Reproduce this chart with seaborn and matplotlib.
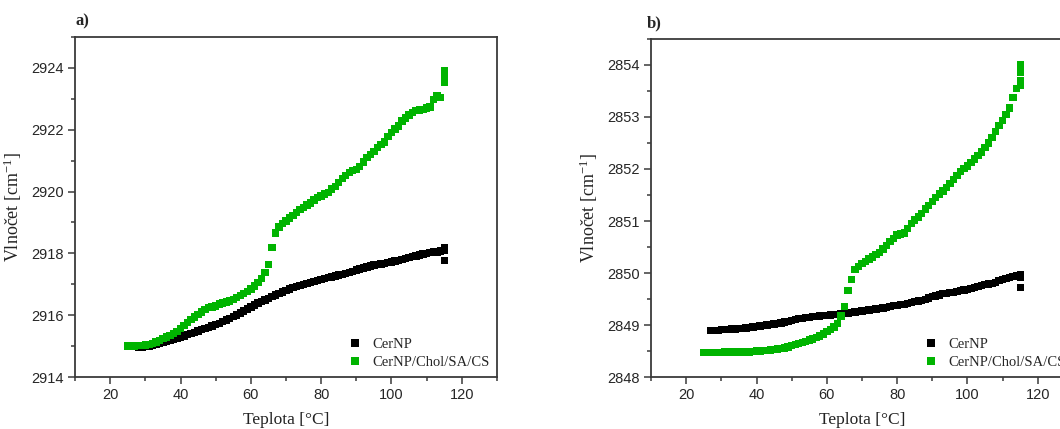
import numpy as np
import pandas as pd
import matplotlib
matplotlib.use("Agg")
import matplotlib.pyplot as plt
from matplotlib.ticker import MultipleLocator
import seaborn as sns

# ---- CH2 asymmetric stretching band (panel a) ----
temp_a_cer = list(range(28, 116)) + [115, 115]
wn_a_cer = [
    2914.95, 2914.96, 2914.98, 2915.00, 2915.03, 2915.06, 2915.10, 2915.13, 2915.16, 2915.19,
    2915.22, 2915.26, 2915.30, 2915.33, 2915.37, 2915.41, 2915.45, 2915.49, 2915.53, 2915.57,
    2915.61, 2915.65, 2915.69, 2915.74, 2915.79, 2915.84, 2915.89, 2915.95, 2916.01, 2916.07,
    2916.14, 2916.20, 2916.27, 2916.33, 2916.39, 2916.44, 2916.49, 2916.54, 2916.60, 2916.65,
    2916.70, 2916.75, 2916.80, 2916.85, 2916.89, 2916.93, 2916.97, 2917.00, 2917.03, 2917.06,
    2917.09, 2917.12, 2917.15, 2917.18, 2917.21, 2917.24, 2917.27, 2917.30, 2917.32, 2917.35,
    2917.38, 2917.42, 2917.46, 2917.50, 2917.53, 2917.56, 2917.59, 2917.62, 2917.64, 2917.66,
    2917.68, 2917.70, 2917.72, 2917.75, 2917.78, 2917.81, 2917.84, 2917.86, 2917.89, 2917.92,
    2917.95, 2917.98, 2918.00, 2918.03, 2918.05, 2918.05, 2918.08, 2918.10, 2918.20, 2917.78,
]
temp_a_mix = list(range(25, 116)) + [115, 115]
wn_a_mix = [
    2915.00, 2915.00, 2915.00, 2915.01, 2915.02, 2915.04, 2915.06, 2915.09, 2915.13, 2915.18,
    2915.24, 2915.29, 2915.35, 2915.41, 2915.48, 2915.56, 2915.66, 2915.76, 2915.86, 2915.94,
    2916.02, 2916.10, 2916.18, 2916.24, 2916.26, 2916.30, 2916.36, 2916.40, 2916.43, 2916.46,
    2916.50, 2916.57, 2916.63, 2916.70, 2916.76, 2916.85, 2916.95, 2917.05, 2917.18, 2917.38,
    2917.65, 2918.20, 2918.66, 2918.85, 2918.96, 2919.05, 2919.14, 2919.22, 2919.32, 2919.41,
    2919.49, 2919.56, 2919.63, 2919.73, 2919.80, 2919.86, 2919.92, 2919.97, 2920.08, 2920.16,
    2920.30, 2920.42, 2920.52, 2920.62, 2920.68, 2920.72, 2920.82, 2920.96, 2921.10, 2921.20,
    2921.30, 2921.42, 2921.52, 2921.60, 2921.78, 2921.92, 2922.02, 2922.12, 2922.28, 2922.38,
    2922.48, 2922.55, 2922.62, 2922.64, 2922.66, 2922.70, 2922.74, 2922.98, 2923.10, 2923.05,
    2923.55, 2923.75, 2923.90,
]

# ---- CH2 symmetric stretching band (panel b) ----
temp_b_cer = list(range(27, 116)) + [115, 115]
wn_b_cer = [
    2848.90, 2848.90, 2848.90, 2848.91, 2848.91, 2848.91, 2848.92, 2848.92, 2848.93, 2848.93,
    2848.94, 2848.95, 2848.96, 2848.97, 2848.98, 2848.99, 2849.00, 2849.01, 2849.02, 2849.03,
    2849.04, 2849.06, 2849.07, 2849.09, 2849.10, 2849.12, 2849.13, 2849.14, 2849.15, 2849.16,
    2849.16, 2849.17, 2849.18, 2849.18, 2849.19, 2849.20, 2849.20, 2849.21, 2849.22, 2849.23,
    2849.24, 2849.25, 2849.26, 2849.27, 2849.28, 2849.29, 2849.30, 2849.31, 2849.32, 2849.33,
    2849.34, 2849.35, 2849.37, 2849.38, 2849.39, 2849.40, 2849.41, 2849.43, 2849.45, 2849.46,
    2849.47, 2849.49, 2849.52, 2849.55, 2849.56, 2849.58, 2849.60, 2849.61, 2849.62, 2849.63,
    2849.64, 2849.66, 2849.67, 2849.68, 2849.70, 2849.72, 2849.74, 2849.76, 2849.78, 2849.79,
    2849.80, 2849.82, 2849.85, 2849.87, 2849.89, 2849.91, 2849.93, 2849.94, 2849.96, 2849.92,
    2849.72,
]
temp_b_mix = list(range(25, 116)) + [115, 115, 115]
wn_b_mix = [
    2848.47, 2848.47, 2848.47, 2848.47, 2848.47, 2848.47, 2848.48, 2848.48, 2848.48, 2848.48,
    2848.48, 2848.48, 2848.48, 2848.48, 2848.49, 2848.50, 2848.50, 2848.51, 2848.51, 2848.52,
    2848.53, 2848.54, 2848.55, 2848.56, 2848.58, 2848.60, 2848.62, 2848.64, 2848.66, 2848.68,
    2848.71, 2848.73, 2848.76, 2848.79, 2848.83, 2848.87, 2848.91, 2848.96, 2849.03, 2849.17,
    2849.35, 2849.66, 2849.88, 2850.07, 2850.13, 2850.18, 2850.22, 2850.27, 2850.31, 2850.36,
    2850.40, 2850.46, 2850.53, 2850.60, 2850.66, 2850.73, 2850.75, 2850.77, 2850.85, 2850.95,
    2851.02, 2851.08, 2851.15, 2851.23, 2851.30, 2851.38, 2851.45, 2851.52, 2851.58, 2851.65,
    2851.72, 2851.80, 2851.88, 2851.95, 2852.01, 2852.06, 2852.12, 2852.19, 2852.26, 2852.33,
    2852.41, 2852.50, 2852.60, 2852.72, 2852.84, 2852.93, 2853.05, 2853.17, 2853.38, 2853.55,
    2853.70, 2853.60, 2853.85, 2854.00,
]

sample_labels = ["CerNP", "CerNP/Chol/SA/CS"]
sample_colors = ["#000000", "#00b400"]
panel_tags = ["a)", "b)"]
x_label = "Teplota [°C]"
y_label = r"Vlnočet [cm$\mathregular{^{-1}}$]"

sns.set_style("white")
plt.rcParams["font.family"] = ["Liberation Sans", "DejaVu Sans"]
plt.rcParams["mathtext.fontset"] = "custom"
plt.rcParams["mathtext.rm"] = "Liberation Serif"

SERIF = ["Liberation Serif", "DejaVu Serif"]
SPINE = "#3a3a3a"

fig = plt.figure(figsize=(10.6, 4.29), dpi=100)
ax_a = fig.add_axes([0.0708, 0.1212, 0.398, 0.7925])
ax_b = fig.add_axes([0.6142, 0.1212, 0.398, 0.7879])


def build_frame(t1, w1, t2, w2):
    return pd.concat([
        pd.DataFrame({"T": t1, "wn": w1, "sample": sample_labels[0]}),
        pd.DataFrame({"T": t2, "wn": w2, "sample": sample_labels[1]}),
    ], ignore_index=True)


panels = [
    (ax_a, build_frame(temp_a_cer, wn_a_cer, temp_a_mix, wn_a_mix), (2914, 2925), 2, 1, 0.0),
    (ax_b, build_frame(temp_b_cer, wn_b_cer, temp_b_mix, wn_b_mix), (2848, 2854.5), 1, 0.5, -0.01),
]

for i, (ax, df, ylim, ymaj, ymin, tag_x) in enumerate(panels):
    sns.scatterplot(
        data=df, x="T", y="wn", hue="sample", hue_order=sample_labels,
        palette=sample_colors, marker="s", s=28, linewidth=0, ax=ax, legend=False,
    )
    ax.set_xlim(10, 130)
    ax.set_ylim(*ylim)
    ax.xaxis.set_major_locator(MultipleLocator(20))
    ax.xaxis.set_minor_locator(MultipleLocator(10))
    ax.yaxis.set_major_locator(MultipleLocator(ymaj))
    ax.yaxis.set_minor_locator(MultipleLocator(ymin))
    ax.tick_params(which="both", direction="out", color=SPINE, width=1.1,
                   bottom=True, left=True, top=False, right=False)
    ax.tick_params(which="major", length=5, labelsize=10.5, labelcolor="#262626", pad=3)
    ax.tick_params(which="minor", length=3)
    for sp in ax.spines.values():
        sp.set_color(SPINE)
        sp.set_linewidth(1.3)
    ax.set_xlabel(x_label, family=SERIF, fontsize=12.5, color="#222222", labelpad=7)
    ax.set_ylabel(y_label, family=SERIF, fontsize=13, color="#222222", labelpad=5)
    ax.text(tag_x, 1.022, panel_tags[i], transform=ax.transAxes, family=SERIF,
            fontsize=12, fontweight="bold", ha="left", va="bottom")

    handles = [
        plt.Line2D([], [], linestyle="none", marker="s", markersize=6,
                   markerfacecolor=c, markeredgewidth=0)
        for c in sample_colors
    ]
    ax.legend(handles, sample_labels, loc="lower left", bbox_to_anchor=(0.615, -0.015),
              frameon=False, prop={"family": SERIF, "size": 10.5},
              handlelength=1.0, handletextpad=0.7, labelspacing=0.3)

fig.savefig("out.png", dpi=100)
